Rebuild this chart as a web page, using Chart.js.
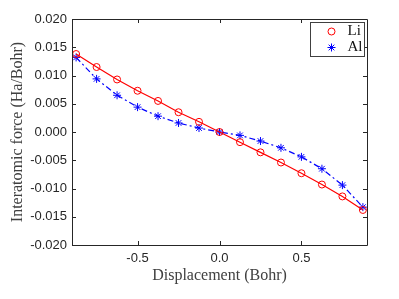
<!DOCTYPE html>
<html><head><meta charset="utf-8">
<script src="https://cdn.jsdelivr.net/npm/chart.js@4/dist/chart.umd.min.js"></script>
<style>html,body{margin:0;padding:0;background:#fff}#wrap{width:399px;height:299px}</style>
</head><body><div id="wrap"><canvas id="c" width="399" height="299"></canvas></div>
<script>
const displacement = [-0.875,-0.75,-0.625,-0.5,-0.375,-0.25,-0.125,0,0.125,0.25,0.375,0.5,0.625,0.75,0.875];
const liForce = [0.0138,0.0115,0.0093,0.0073,0.0055,0.0035,0.0018,0.0000,-0.0018,-0.0036,-0.0054,-0.0073,-0.0093,-0.0114,-0.0138];
const alForce = [0.0132,0.0094,0.0065,0.0044,0.0028,0.0016,0.0007,0.0000,-0.0006,-0.0016,-0.0028,-0.0044,-0.0065,-0.0094,-0.0133];
const xTicks = [-0.5,0,0.5];
const yTicks = [-0.020,-0.015,-0.010,-0.005,0.000,0.005,0.010,0.015,0.020];
const seriesNames = ['Li','Al'];

const axisColor = '#262626';
const serif = '"Liberation Serif", "Times New Roman", serif';
const sans = '"Liberation Sans", Arial, sans-serif';

const boxPlugin = {
  id: 'box',
  afterDatasetsDraw(chart) {
    const {ctx, chartArea: a, scales: {x, y}} = chart;
    ctx.save();
    ctx.strokeStyle = axisColor;
    ctx.lineWidth = 1;
    ctx.beginPath();
    ctx.rect(Math.round(a.left)+0.5, Math.round(a.top)+0.5, Math.round(a.right-a.left), Math.round(a.bottom-a.top));
    ctx.stroke();
    const tl = 4;
    ctx.beginPath();
    xTicks.forEach(v => {
      const px = Math.round(x.getPixelForValue(v))+0.5;
      ctx.moveTo(px, a.bottom); ctx.lineTo(px, a.bottom - tl);
      ctx.moveTo(px, a.top); ctx.lineTo(px, a.top + tl);
    });
    yTicks.forEach(v => {
      const py = Math.round(y.getPixelForValue(v))+0.5;
      ctx.moveTo(a.left, py); ctx.lineTo(a.left + tl, py);
      ctx.moveTo(a.right, py); ctx.lineTo(a.right - tl, py);
    });
    ctx.stroke();
    // legend
    const w = 54, h = 34;
    const lx = Math.round(a.right - 3 - w) + 0.5, ly = Math.round(a.top + 3) + 0.5;
    ctx.fillStyle = '#fff';
    ctx.fillRect(lx, ly, w, h);
    ctx.strokeStyle = '#404040';
    ctx.strokeRect(lx, ly, w, h);
    chart.data.datasets.forEach((ds, i) => {
      const cy = ly + 9 + i * 16;
      const cx = lx + 21;
      ctx.lineWidth = 1;
      ctx.strokeStyle = ds.borderColor;
      ctx.beginPath();
      if (ds.pointStyle === 'circle') {
        ctx.arc(cx, cy, 3.5, 0, Math.PI*2);
      } else {
        const r = 4;
        ctx.moveTo(cx - r, cy); ctx.lineTo(cx + r, cy);
        ctx.moveTo(cx, cy - r); ctx.lineTo(cx, cy + r);
        const d = r * Math.SQRT1_2;
        ctx.moveTo(cx - d, cy - d); ctx.lineTo(cx + d, cy + d);
        ctx.moveTo(cx - d, cy + d); ctx.lineTo(cx + d, cy - d);
      }
      ctx.stroke();
      ctx.fillStyle = '#111';
      ctx.font = '15px ' + serif;
      ctx.textBaseline = 'middle';
      ctx.textAlign = 'left';
      ctx.fillText(ds.label, lx + 37, cy);
    });
    ctx.restore();
  }
};

new Chart(document.getElementById('c'), {
  type: 'line',
  data: {
    datasets: [
      {
        label: seriesNames[0],
        data: displacement.map((d, i) => ({x: d, y: liForce[i]})),
        borderColor: '#ff0000', backgroundColor: 'rgba(0,0,0,0)',
        borderWidth: 1.2, pointStyle: 'circle', pointRadius: 3.5,
        pointBorderColor: '#ff0000', pointBackgroundColor: 'rgba(0,0,0,0)', pointBorderWidth: 1,
        tension: 0
      },
      {
        label: seriesNames[1],
        data: displacement.map((d, i) => ({x: d, y: alForce[i]})),
        borderColor: '#0000ff', backgroundColor: 'rgba(0,0,0,0)',
        borderWidth: 1.2, borderDash: [6,3,2,3], pointStyle: 'star', pointRadius: 4,
        pointBorderColor: '#0000ff', pointBackgroundColor: 'rgba(0,0,0,0)', pointBorderWidth: 1,
        tension: 0
      }
    ]
  },
  options: {
    responsive: false, animation: false,
    layout: {padding: {left: 0, right: 32, top: 19, bottom: 0}},
    plugins: {legend: {display: false}, tooltip: {enabled: false}},
    scales: {
      x: {
        type: 'linear', min: -0.9, max: 0.9,
        afterBuildTicks: s => { s.ticks = xTicks.map(v => ({value: v})); },
        afterFit: s => { s.height = 54; },
        grid: {display: false, drawTicks: false},
        border: {display: false},
        ticks: {padding: 6, color: axisColor, font: {family: sans, size: 13}, maxRotation: 0,
          callback: v => Number(v).toFixed(1)},
        title: {display: true, text: 'Displacement (Bohr)', color: '#404040',
          font: {family: serif, size: 16}, padding: {top: 0, bottom: 14}}
      },
      y: {
        type: 'linear', min: -0.02, max: 0.02,
        afterBuildTicks: s => { s.ticks = yTicks.map(v => ({value: v})); },
        afterFit: s => { s.width = 72; },
        grid: {display: false, drawTicks: false},
        border: {display: false},
        ticks: {padding: 5, color: axisColor, font: {family: sans, size: 13},
          callback: v => Number(v).toFixed(3)},
        title: {display: true, text: 'Interatomic force (Ha/Bohr)', color: '#404040',
          font: {family: serif, size: 16}, padding: {top: 8, bottom: 0}}
      }
    }
  },
  plugins: [boxPlugin]
});
</script>
</body></html>
